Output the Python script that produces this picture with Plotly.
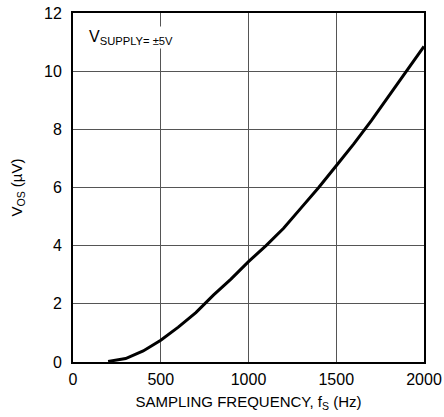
import plotly.graph_objects as go

freq_hz = [200, 300, 400, 500, 600, 700, 750, 800, 900, 1000,
           1100, 1200, 1300, 1400, 1500, 1600, 1700, 1800, 1900, 2000]
vos_uv = [0.02, 0.12, 0.38, 0.75, 1.2, 1.7, 2.0, 2.3, 2.85, 3.45,
          4.0, 4.6, 5.3, 6.0, 6.75, 7.5, 8.3, 9.15, 10.0, 10.85]

FONT = "Liberation Sans, Arial, sans-serif"

fig = go.Figure()
fig.add_trace(go.Scatter(
    x=freq_hz, y=vos_uv, mode="lines",
    line=dict(color="black", width=3),
    showlegend=False,
))

fig.add_annotation(
    xref="paper", yref="paper", x=0.04, y=0.93,
    xanchor="left", yanchor="middle",
    text="V<sub>SUPPLY= ±5V</sub>",
    showarrow=False, bgcolor="white",
    font=dict(family=FONT, size=16, color="black"),
)

axis_common = dict(
    showgrid=True, gridcolor="#555", gridwidth=1,
    showline=True, linecolor="black", linewidth=2, mirror=True,
    zeroline=False, ticks="", automargin=False, ticklabeloverflow="allow",
    tickfont=dict(family=FONT, size=16, color="black"),
)
fig.update_xaxes(
    range=[0, 2000], dtick=500, ticklabelstandoff=2, **axis_common,
    title=dict(text="SAMPLING FREQUENCY, f<sub>S</sub> (Hz)", standoff=9,
               font=dict(family=FONT, size=15, color="black")),
)
fig.update_yaxes(
    range=[0, 12], dtick=2, ticklabelstandoff=6, **axis_common,
    title=dict(text="V<sub>OS</sub> (µV)", standoff=18,
               font=dict(family=FONT, size=15, color="black")),
)
fig.update_layout(
    width=444, height=417,
    margin=dict(l=73, r=20, t=13, b=55),
    plot_bgcolor="white", paper_bgcolor="white",
)

# drop the default 8px body margin so the figure fills the window
fig.write_html(
    "out.html",
    config={"displayModeBar": False},
    post_script="document.body.style.margin='0';",
)
